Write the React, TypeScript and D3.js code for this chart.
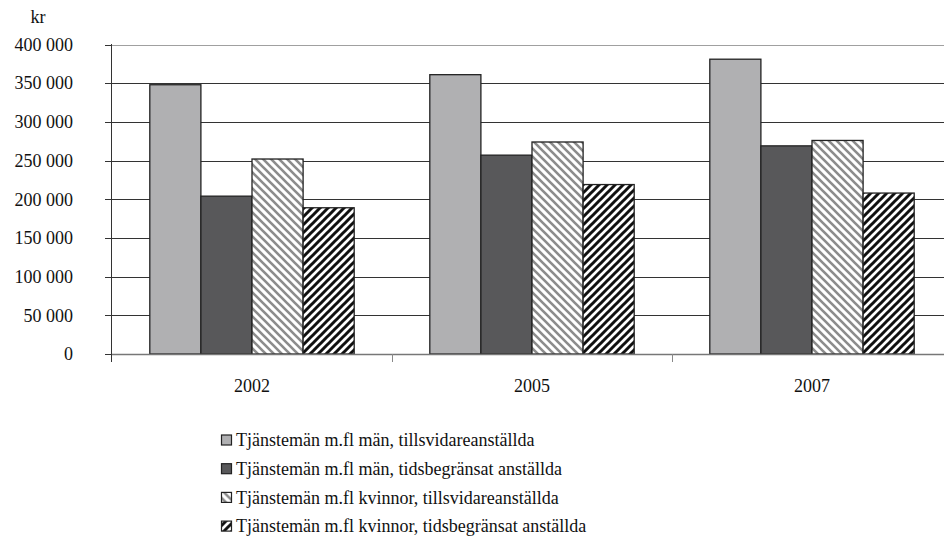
import React, { useEffect, useRef } from "react";
import * as d3 from "d3";

const years = ["2002", "2005", "2007"];
const seriesNames = [
  "Tjänstemän m.fl män, tillsvidareanställda",
  "Tjänstemän m.fl män, tidsbegränsat anställda",
  "Tjänstemän m.fl kvinnor, tillsvidareanställda",
  "Tjänstemän m.fl kvinnor, tidsbegränsat anställda",
];
const menPermanent = [348000, 361000, 381000];
const menTemporary = [204000, 257000, 269000];
const womenPermanent = [252000, 274000, 276000];
const womenTemporary = [189000, 219000, 208000];
const yTicks = [0, 50000, 100000, 150000, 200000, 250000, 300000, 350000, 400000];

const fills = ["#b0b0b2", "#58585a", "url(#hatchGray)", "url(#hatchBlack)"];
const FONT = "Liberation Serif, Tinos, DejaVu Serif, Times, serif";

const App = () => {
  const ref = useRef<SVGSVGElement>(null);

  useEffect(() => {
    const WIDTH = 944;
    const svg = d3.select(ref.current);
    svg.selectAll("*").remove();
    svg.style("font-family", FONT);

    const values = [menPermanent, menTemporary, womenPermanent, womenTemporary];

    /* patterns */
    const defs = svg.append("defs");
    const p1 = defs
      .append("pattern")
      .attr("id", "hatchGray")
      .attr("patternUnits", "userSpaceOnUse")
      .attr("width", 8)
      .attr("height", 8);
    p1.append("rect").attr("width", 8).attr("height", 8).attr("fill", "#fff");
    p1.append("path")
      .attr("d", "M-2,-2 L10,10 M-2,6 L2,10 M6,-2 L10,2")
      .attr("stroke", "#8c8c8c")
      .attr("stroke-width", 2.6);
    const p2 = defs
      .append("pattern")
      .attr("id", "hatchBlack")
      .attr("patternUnits", "userSpaceOnUse")
      .attr("width", 8)
      .attr("height", 8);
    p2.append("rect").attr("width", 8).attr("height", 8).attr("fill", "#fff");
    p2.append("path")
      .attr("d", "M-2,10 L10,-2 M-2,2 L2,-2 M6,10 L10,6")
      .attr("stroke", "#111")
      .attr("stroke-width", 3);

    const x0 = d3.scaleBand().domain(years).range([112, 952]);
    const groupW = x0.bandwidth() * 0.73;
    const x1 = d3
      .scaleBand()
      .domain(d3.range(4).map(String))
      .range([0, groupW]);
    const y = d3.scaleLinear().domain([0, 400000]).range([354, 44.5]);

    /* gridlines */
    svg
      .append("g")
      .selectAll("line")
      .data(yTicks.filter((d) => d > 0))
      .join("line")
      .attr("x1", 112)
      .attr("x2", WIDTH)
      .attr("y1", (d) => Math.round(y(d)) + 0.5)
      .attr("y2", (d) => Math.round(y(d)) + 0.5)
      .attr("stroke", (d) => (d === 400000 ? "#a0a0a0" : "#333"))
      .attr("stroke-width", 1);

    /* bars */
    years.forEach((yr, i) => {
      const gx = x0(yr)! + (x0.bandwidth() - groupW) / 2;
      values.forEach((s, j) => {
        svg
          .append("rect")
          .attr("x", gx + x1(String(j))!)
          .attr("y", y(s[i]))
          .attr("width", x1.bandwidth())
          .attr("height", y(0) - y(s[i]))
          .attr("fill", fills[j])
          .attr("stroke", "#222")
          .attr("stroke-width", 1.3);
      });
    });

    /* y axis */
    svg
      .append("line")
      .attr("x1", 111.5)
      .attr("x2", 111.5)
      .attr("y1", 44)
      .attr("y2", 362)
      .attr("stroke", "#333");
    svg
      .append("g")
      .selectAll("line")
      .data(yTicks)
      .join("line")
      .attr("x1", 105)
      .attr("x2", 112)
      .attr("y1", (d) => Math.round(y(d)) + 0.5)
      .attr("y2", (d) => Math.round(y(d)) + 0.5)
      .attr("stroke", "#333");
    svg
      .append("g")
      .selectAll("text")
      .data(yTicks)
      .join("text")
      .attr("x", 73)
      .attr("y", (d) => y(d))
      .attr("dy", "0.35em")
      .attr("text-anchor", "end")
      .attr("font-size", 18)
      .attr("fill", "#111")
      .text((d) => (d === 0 ? "0" : d3.format(",")(d).replace(/,/g, " ")));
    svg
      .append("text")
      .attr("x", 38)
      .attr("y", 23)
      .attr("text-anchor", "middle")
      .attr("font-size", 18)
      .attr("fill", "#111")
      .text("kr");

    /* x axis */
    svg
      .append("line")
      .attr("x1", 112)
      .attr("x2", WIDTH)
      .attr("y1", 354.5)
      .attr("y2", 354.5)
      .attr("stroke", "#777")
      .attr("stroke-width", 1.5);
    svg
      .append("g")
      .selectAll("line")
      .data(years.slice(1))
      .join("line")
      .attr("x1", (d) => Math.round(x0(d)!) + 0.5)
      .attr("x2", (d) => Math.round(x0(d)!) + 0.5)
      .attr("y1", 354)
      .attr("y2", 362)
      .attr("stroke", "#888");
    svg
      .append("g")
      .selectAll("text")
      .data(years)
      .join("text")
      .attr("x", (d) => x0(d)! + x0.bandwidth() / 2)
      .attr("y", 392)
      .attr("text-anchor", "middle")
      .attr("font-size", 18)
      .attr("fill", "#111")
      .text((d) => d);

    /* legend */
    const legend = svg
      .append("g")
      .selectAll("g")
      .data(seriesNames)
      .join("g")
      .attr("transform", (d, i) => `translate(221, ${440 + i * 28.7})`);
    legend
      .append("rect")
      .attr("x", 0.5)
      .attr("y", -5)
      .attr("width", 10)
      .attr("height", 10)
      .attr("fill", (d, i) => fills[i])
      .attr("stroke", "#222")
      .attr("stroke-width", 1.2);
    legend
      .append("text")
      .attr("x", 15)
      .attr("y", 0)
      .attr("dy", "0.35em")
      .attr("font-size", 18)
      .attr("fill", "#111")
      .text((d) => d);
  }, []);

  return (
    <svg
      ref={ref}
      width={944}
      height={547}
      style={{ position: "absolute", left: 0, top: 0, background: "#fff" }}
    />
  );
};

export default App;
